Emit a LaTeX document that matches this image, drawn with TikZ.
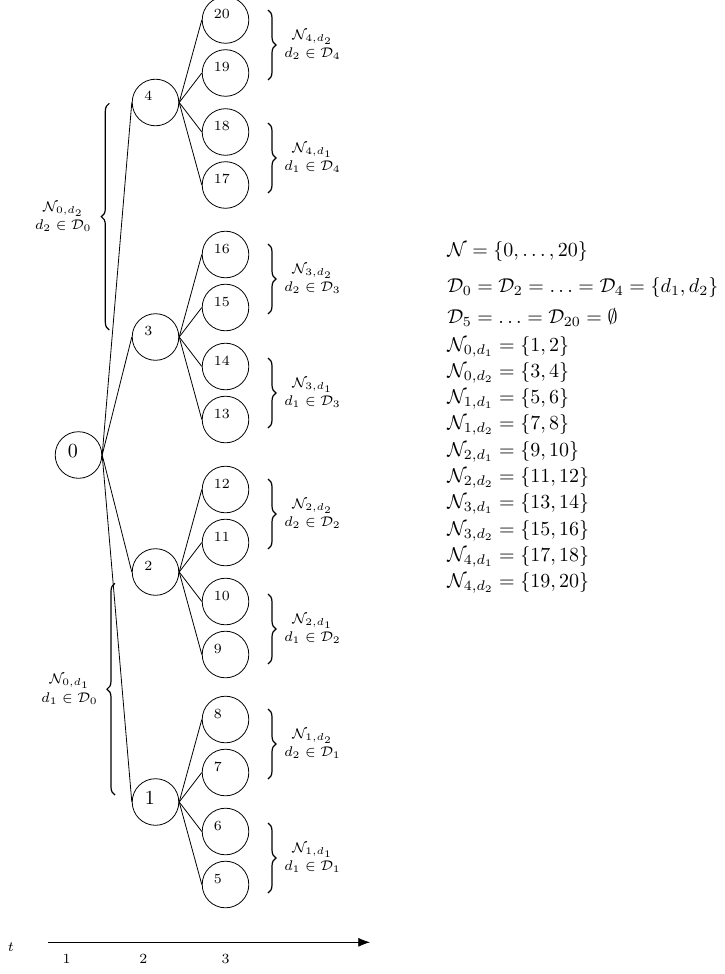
\documentclass[tikz,border=0pt]{standalone}
\usepackage{amsmath,amssymb}
\usetikzlibrary{decorations.pathreplacing,arrows.meta,calc}
\begin{document}
\begin{tikzpicture}[x=0.5pt,y=-0.5pt,
  circ/.style={draw,circle,minimum size=23.3pt,inner sep=0pt},
  lbls/.style={font=\scriptsize,inner sep=0pt,anchor=west},
  lblb/.style={font=\normalsize,inner sep=0pt,anchor=west},
  edge/.style={line width=0.4pt},
  rbrace/.style={decorate,decoration={brace,amplitude=4pt},line width=0.6pt},
  blabel/.style={font=\scriptsize,align=center,inner sep=0pt},
  setline/.style={inner sep=0pt,anchor=base west},
  axlbl/.style={font=\scriptsize,inner sep=0pt}]
\useasboundingbox (0,0) rectangle (724,974);

% root
\node[circ] (n0) at (78.5,455) {};
\node[lblb] (t0) at ($(n0.center)+(-11,-4)$) {0};

% second stage
\foreach \p/\y in {4/102.5,3/337,2/572,1/802}{
  \node[circ] (n\p) at (155.5,\y) {};
  \draw[edge] (n0.east) -- (n\p.west);
}
\node[lbls] (t4) at ($(n4.center)+(-11.5,-6.5)$) {4};
\node[lbls] (t3) at ($(n3.center)+(-11.5,-6.5)$) {3};
\node[lbls] (t2) at ($(n2.center)+(-11.5,-6.5)$) {2};
\node[lblb] (t1) at ($(n1.center)+(-11,-4)$) {1};

% leaves
\foreach \p/\y/\a/\b/\c/\d in {4/102.5/20/19/18/17,3/337/16/15/14/13,2/572/12/11/10/9,1/802/8/7/6/5}{
  \node[circ] (n\a) at (225.5,\y-82.5) {};
  \node[circ] (n\b) at (225.5,\y-29.5) {};
  \node[circ] (n\c) at (225.5,\y+29.5) {};
  \node[circ] (n\d) at (225.5,\y+82.5) {};
  \foreach \q in {\a,\b,\c,\d}{
    \node[lbls] (t\q) at ($(n\q.center)+(-12,-6)$) {\q};
    \draw[edge] (n\p.east) -- (n\q.west);
  }
}

% right braces
\foreach \m/\i/\j in {45/4/2,158/4/1,279/3/2,393/3/1,514/2/2,629/2/1,744/1/2,858/1/1}{
  \draw[rbrace] (268,\m-35) -- (268,\m+35)
    node[blabel,midway,anchor=center,xshift=22.25pt] (b\i\j) {$\mathcal{N}_{\i,d_\j}$\\[1.2pt]$d_\j\in\mathcal{D}_\i$};
}

% left braces
\draw[rbrace] (109.3,330) -- (109.3,103.3)
  node[blabel,midway,anchor=center,xshift=-23pt] (L2) {$\mathcal{N}_{0,d_2}$\\[1.2pt]$d_2\in\mathcal{D}_0$};
\draw[rbrace] (115,795) -- (115,583.3)
  node[blabel,midway,anchor=center,xshift=-22.7pt] (L1) {$\mathcal{N}_{0,d_1}$\\[1.2pt]$d_1\in\mathcal{D}_0$};

% set definitions
\node[setline] (s1) at (447,256) {$\mathcal{N}=\{0,\ldots,20\}$};
\node[setline] (s2) at (447,292) {$\mathcal{D}_0=\mathcal{D}_2=\ldots=\mathcal{D}_4=\{d_1,d_2\}$};
\node[setline] (s3) at (447,323) {$\mathcal{D}_5=\ldots=\mathcal{D}_{20}=\emptyset$};
\node[setline] (s4) at (447,351) {$\mathcal{N}_{0,d_1}=\{1,2\}$};
\node[setline] (s5) at (447,377.3) {$\mathcal{N}_{0,d_2}=\{3,4\}$};
\node[setline] (s6) at (447,403.6) {$\mathcal{N}_{1,d_1}=\{5,6\}$};
\node[setline] (s7) at (447,429.9) {$\mathcal{N}_{1,d_2}=\{7,8\}$};
\node[setline] (s8) at (447,456.2) {$\mathcal{N}_{2,d_1}=\{9,10\}$};
\node[setline] (s9) at (447,482.5) {$\mathcal{N}_{2,d_2}=\{11,12\}$};
\node[setline] (s10) at (447,508.8) {$\mathcal{N}_{3,d_1}=\{13,14\}$};
\node[setline] (s11) at (447,535.1) {$\mathcal{N}_{3,d_2}=\{15,16\}$};
\node[setline] (s12) at (447,561.4) {$\mathcal{N}_{4,d_1}=\{17,18\}$};
\node[setline] (s13) at (447,587.7) {$\mathcal{N}_{4,d_2}=\{19,20\}$};

% time axis
\coordinate (ax0) at (48.3,942.3);
\coordinate (ax1) at (370,942.3);
\draw[-{Latex[length=5.85pt,width=4.5pt]}] (ax0) -- (ax1);
\node[axlbl] (tt) at (11,947) {$t$};
\node[axlbl] (a1) at (66.7,959.3) {1};
\node[axlbl] (a2) at (143.3,959.3) {2};
\node[axlbl] (a3) at (225.7,959.3) {3};
\end{tikzpicture}
\end{document}
